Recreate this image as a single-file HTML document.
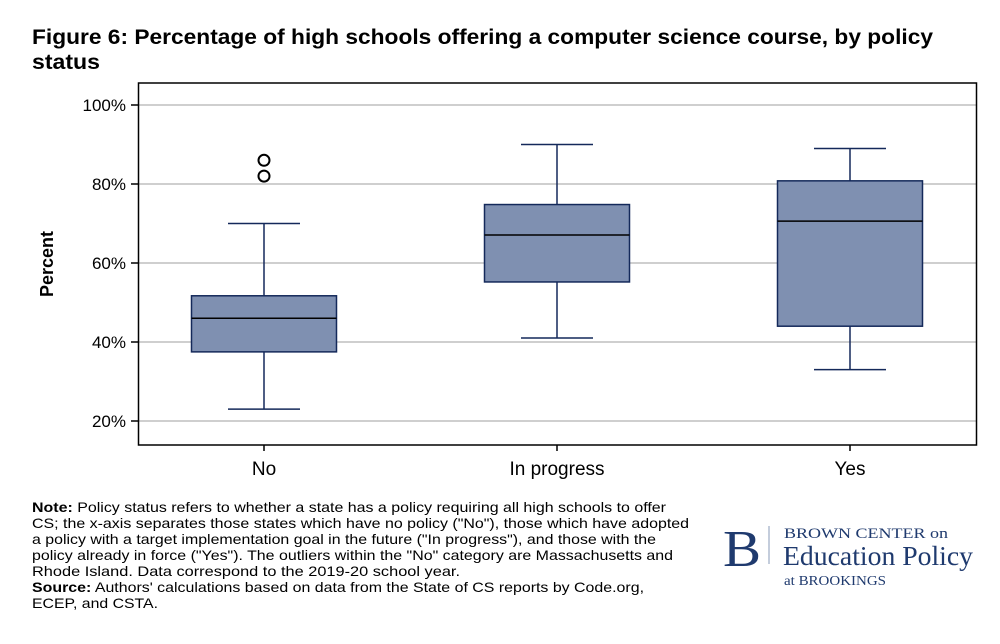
<!DOCTYPE html>
<html><head><meta charset="utf-8"><style>
body{margin:0;background:#fff;width:1000px;height:639px;overflow:hidden;font-family:"Liberation Sans",Arial,sans-serif}
</style></head><body>
<svg width="1000" height="639" xmlns="http://www.w3.org/2000/svg">
<text x="32" y="44" font-size="21.5" font-weight="bold" fill="#000" textLength="901" lengthAdjust="spacingAndGlyphs">Figure 6: Percentage of high schools offering a computer science course, by policy</text>
<text x="32" y="69" font-size="21.5" font-weight="bold" fill="#000" textLength="68" lengthAdjust="spacingAndGlyphs">status</text>
<g id="grid"></g>
<g id="boxes"></g>
<rect x="138.5" y="83" width="838" height="362" fill="none" stroke="#000" stroke-width="1.5"/>
<text transform="translate(53,264) rotate(-90)" text-anchor="middle" font-size="18" font-weight="bold">Percent</text>
<g font-size="14" fill="#000" lengthAdjust="spacingAndGlyphs">
<text x="32" y="512" textLength="634" lengthAdjust="spacingAndGlyphs"><tspan font-weight="bold">Note:</tspan> Policy status refers to whether a state has a policy requiring all high schools to offer</text>
<text x="32" y="528" textLength="657" lengthAdjust="spacingAndGlyphs">CS; the x-axis separates those states which have no policy ("No"), those which have adopted</text>
<text x="32" y="544" textLength="624" lengthAdjust="spacingAndGlyphs">a policy with a target implementation goal in the future ("In progress"), and those with the</text>
<text x="32" y="560" textLength="641" lengthAdjust="spacingAndGlyphs">policy already in force ("Yes"). The outliers within the "No" category are Massachusetts and</text>
<text x="32" y="576" textLength="428" lengthAdjust="spacingAndGlyphs">Rhode Island. Data correspond to the 2019-20 school year.</text>
<text x="32" y="592" textLength="612" lengthAdjust="spacingAndGlyphs"><tspan font-weight="bold">Source:</tspan> Authors' calculations based on data from the State of CS reports by Code.org,</text>
<text x="32" y="608" textLength="126" lengthAdjust="spacingAndGlyphs">ECEP, and CSTA.</text>
</g>
<g fill="#1f3a6e" font-family="Liberation Serif,serif">
<text x="723" y="566" font-size="52" textLength="38" lengthAdjust="spacingAndGlyphs">B</text>
<line x1="769" y1="526" x2="769" y2="564" stroke="#8a9bb8" stroke-width="1"/>
<text x="784" y="538" font-size="15" textLength="164" lengthAdjust="spacingAndGlyphs">BROWN CENTER on</text>
<text x="783" y="565" font-size="27" textLength="190" lengthAdjust="spacingAndGlyphs">Education Policy</text>
<text x="784" y="585" font-size="14" textLength="102" lengthAdjust="spacingAndGlyphs">at BROOKINGS</text>
</g>
</svg>
<script>
const categories=["No","In progress","Yes"];
const whiskerLow=[23,41,33];
const q1=[37.5,55.2,44];
const median=[46,67.1,70.6];
const q3=[51.7,74.8,80.8];
const whiskerHigh=[70,90,89];
const outlierCat=[0,0];
const outlierVal=[86,82];
const yTicks=[20,40,60,80,100];
const NS="http://www.w3.org/2000/svg";
const y=v=>421-(v-20)*3.95;
const x=i=>264+i*293;
function mk(tag,attrs,parent){const e=document.createElementNS(NS,tag);for(const k in attrs)e.setAttribute(k,attrs[k]);parent.appendChild(e);return e;}
const grid=document.getElementById('grid'),boxes=document.getElementById('boxes');
yTicks.forEach(t=>{
 const l=mk('line',{x1:138,x2:976,y1:y(t),y2:y(t),stroke:'#cfcfcf','stroke-width':2},grid);
 
 
 const tk=mk('line',{x1:131,x2:138,y1:y(t),y2:y(t),stroke:'#000','stroke-width':1.5},grid);
 
 
 const tx=mk('text',{x:126,y:y(t)+6,'text-anchor':'end','font-size':17},grid);
 tx.textContent=t+'%';
 
 
});
categories.forEach((c,i)=>{
 const cx=x(i),hw=72.5,st='#14295a';
 const g=mk('g',{},boxes);
 
 
 mk('line',{x1:cx,x2:cx,y1:y(whiskerLow[i]),y2:y(q1[i]),stroke:st,'stroke-width':1.5},g);
 mk('line',{x1:cx,x2:cx,y1:y(q3[i]),y2:y(whiskerHigh[i]),stroke:st,'stroke-width':1.5},g);
 mk('line',{x1:cx-36,x2:cx+36,y1:y(whiskerLow[i]),y2:y(whiskerLow[i]),stroke:st,'stroke-width':1.5},g);
 mk('line',{x1:cx-36,x2:cx+36,y1:y(whiskerHigh[i]),y2:y(whiskerHigh[i]),stroke:st,'stroke-width':1.5},g);
 mk('rect',{x:cx-hw,y:y(q3[i]),width:hw*2,height:y(q1[i])-y(q3[i]),fill:'#7f90b1',stroke:st,'stroke-width':1.5},g);
 mk('line',{x1:cx-hw,x2:cx+hw,y1:y(median[i]),y2:y(median[i]),stroke:'#000','stroke-width':1.5},g);
 const tk=mk('line',{x1:cx,x2:cx,y1:445,y2:451,stroke:'#000','stroke-width':1.5},boxes);
 
 
 const lb=mk('text',{x:cx,y:475,'text-anchor':'middle','font-size':19},boxes);
 lb.textContent=c;
 
 
});
outlierVal.forEach((v,j)=>{
 const o=mk('circle',{cx:x(outlierCat[j]),cy:y(v),r:5.5,fill:'none',stroke:'#000','stroke-width':2},boxes);
 
 
});
</script>
</body></html>
